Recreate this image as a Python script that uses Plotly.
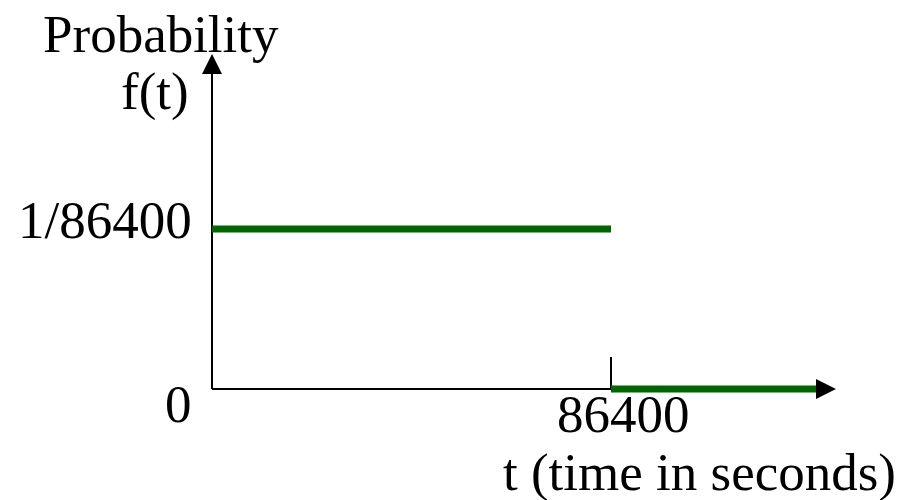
import plotly.graph_objects as go

# ---- data ----
T_PERIOD = 86400                 # seconds in a day
F_VALUE = 1 / 86400              # uniform density
pdf_t = [0, T_PERIOD]
pdf_f = [F_VALUE, F_VALUE]
tail_t = [T_PERIOD, 131660]      # f(t)=0 beyond one day (drawn extent)
tail_f = [0, 0]
y_tick_labels = ["0", "1/86400"]
x_tick_labels = ["86400"]
x_axis_tip = 135120              # arrow tip of t axis (data units)
y_axis_tip = 2.094 * F_VALUE     # arrow tip of f axis (data units)
tick_height = 0.2 * F_VALUE

# ---- layout calibration (pixels) ----
W, H = 913, 500
ORIG_X, ORIG_Y = 212, 389
PX_PER_T = 399 / T_PERIOD
PX_PER_F = 160 / F_VALUE
kx = 1 / PX_PER_T
ky = 1 / PX_PER_F
xrange = [-ORIG_X * kx, (W - ORIG_X) * kx]
yrange = [-(H - ORIG_Y) * ky, ORIG_Y * ky]

GREEN = "#006400"
FONT = dict(family="Liberation Serif, Times New Roman, serif", size=53, color="black")
ARROW = 20

fig = go.Figure()
# axes lines
fig.add_trace(go.Scatter(x=[0, x_axis_tip - ARROW / 2 * kx], y=[0, 0], mode="lines",
                         line=dict(color="black", width=2), hoverinfo="skip"))
fig.add_trace(go.Scatter(x=[0, 0], y=[0, y_axis_tip - ARROW / 2 * ky], mode="lines",
                         line=dict(color="black", width=2), hoverinfo="skip"))
# tick at 86400
fig.add_trace(go.Scatter(x=[T_PERIOD, T_PERIOD], y=[0, tick_height], mode="lines",
                         line=dict(color="black", width=2), hoverinfo="skip"))
# pdf
fig.add_trace(go.Scatter(x=pdf_t, y=pdf_f, mode="lines",
                         line=dict(color=GREEN, width=7), hoverinfo="skip"))
fig.add_trace(go.Scatter(x=tail_t, y=tail_f, mode="lines",
                         line=dict(color=GREEN, width=7), hoverinfo="skip"))
# arrowheads
fig.add_trace(go.Scatter(x=[x_axis_tip], y=[0], mode="markers",
                         marker=dict(symbol="arrow-right", size=ARROW, color="black",
                                     line=dict(width=0)), hoverinfo="skip"))
fig.add_trace(go.Scatter(x=[0], y=[y_axis_tip], mode="markers",
                         marker=dict(symbol="arrow-up", size=ARROW, color="black",
                                     line=dict(width=0)), hoverinfo="skip"))

ann = []
# y tick labels
ann.append(dict(x=0, y=F_VALUE, xref="x", yref="y", text=y_tick_labels[1], showarrow=False,
                xanchor="right", yanchor="middle", xshift=-18, yshift=9, font=FONT))
ann.append(dict(x=0, y=0, xref="x", yref="y", text=y_tick_labels[0], showarrow=False,
                xanchor="right", yanchor="middle", xshift=-18, yshift=-15, font=FONT))
# x tick label
ann.append(dict(x=T_PERIOD, y=0, xref="x", yref="y", text=x_tick_labels[0], showarrow=False,
                xanchor="center", yanchor="middle", xshift=12, yshift=-25, font=FONT))
# axis titles
ann.append(dict(x=41 / W, y=1 - 34 / H, xref="paper", yref="paper", text="Probability",
                showarrow=False, xanchor="left", yanchor="middle", font=FONT))
ann.append(dict(x=191 / W, y=1 - 92 / H, xref="paper", yref="paper", text="f(t)",
                showarrow=False, xanchor="right", yanchor="middle", font=FONT))
ann.append(dict(x=501 / W, y=1 - 472 / H, xref="paper", yref="paper", text="t (time in seconds)",
                showarrow=False, xanchor="left", yanchor="middle", font=FONT))

fig.update_layout(
    width=W, height=H,
    margin=dict(l=0, r=0, t=0, b=0),
    paper_bgcolor="white", plot_bgcolor="white",
    showlegend=False,
    xaxis=dict(visible=False, range=xrange, fixedrange=True),
    yaxis=dict(visible=False, range=yrange, fixedrange=True),
    annotations=ann,
)
fig.write_html("out.html", config={"displayModeBar": False},
               post_script="document.body.style.margin='0';document.body.style.overflow='hidden';")
